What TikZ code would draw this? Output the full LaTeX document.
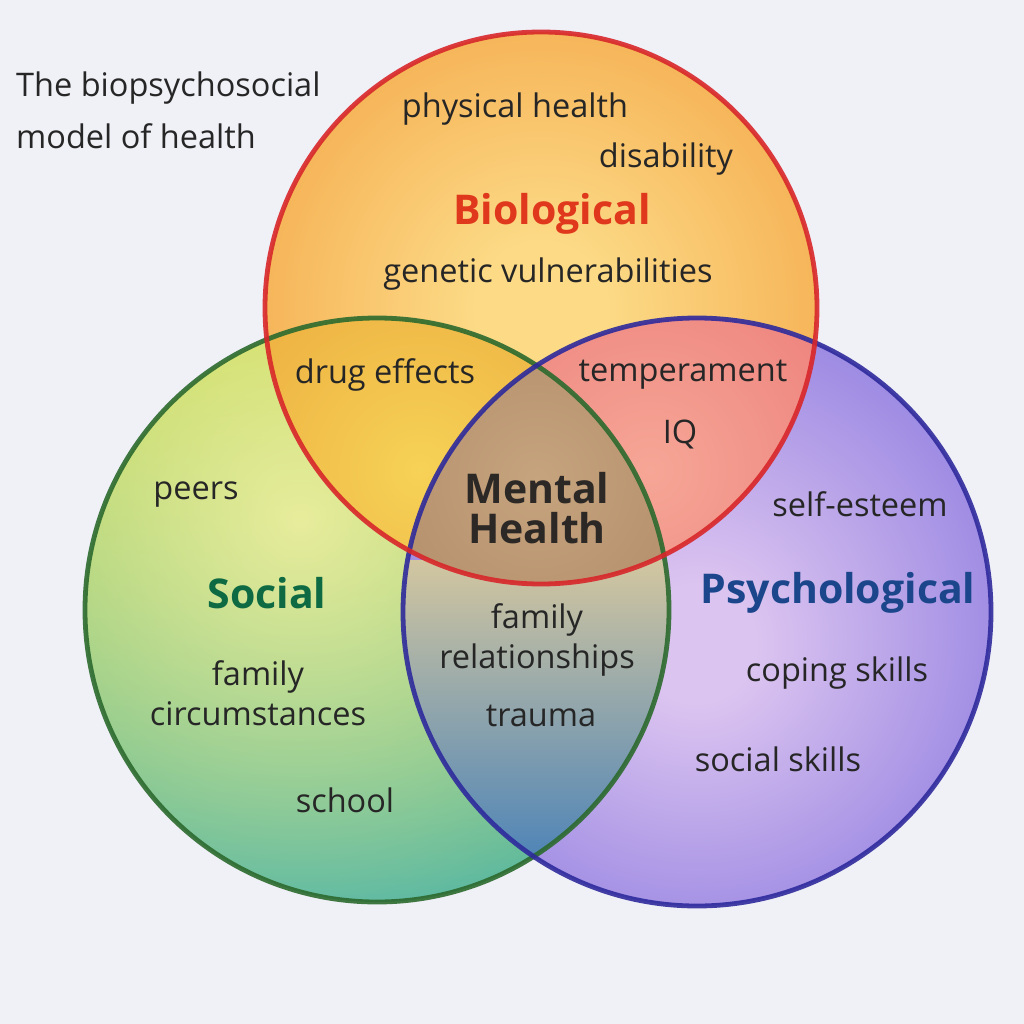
\documentclass[tikz,border=0pt]{standalone}
\usepackage{fontspec}
\setmainfont{Open Sans}
\usetikzlibrary{fadings}
\definecolor{bg}{HTML}{F0F1F7}
\definecolor{txt}{HTML}{262626}
\definecolor{biostroke}{HTML}{D8262A}
\definecolor{socstroke}{HTML}{2C6A2E}
\definecolor{psystroke}{HTML}{2E2A9C}
\definecolor{biotxt}{HTML}{E0381C}
\definecolor{soctxt}{HTML}{0E6A42}
\definecolor{psytxt}{HTML}{1C468C}
\definecolor{mhtxt}{HTML}{2C2826}
\definecolor{socTop}{HTML}{BCD440}
\definecolor{socBot}{HTML}{4AB2A2}
\definecolor{socGlow}{HTML}{F6F3A6}
\definecolor{psyIn}{HTML}{DCC4F0}
\definecolor{psyOut}{HTML}{8474DE}
\definecolor{bioIn}{HTML}{FCDA86}
\definecolor{bioOut}{HTML}{F3A040}
\definecolor{bsIn}{HTML}{F6D256}
\definecolor{bsOut}{HTML}{ECAA3E}
\definecolor{bpIn}{HTML}{F6A696}
\definecolor{bpOut}{HTML}{EC7E7A}
\definecolor{spTop}{HTML}{D2C6A0}
\definecolor{spBot}{HTML}{4A82B8}
\definecolor{cIn}{HTML}{C6A47E}
\definecolor{cOut}{HTML}{B08C68}
\pgfdeclareradialshading{bioshade}{\pgfpoint{0bp}{0bp}}{color(0bp)=(bioIn); color(6bp)=(bioIn); color(36bp)=(bioOut); color(50bp)=(bioOut)}
\pgfdeclareradialshading{psyshade}{\pgfpoint{0bp}{-3bp}}{color(0bp)=(psyIn); color(5bp)=(psyIn); color(35bp)=(psyOut); color(50bp)=(psyOut)}
\tikzfading[name=glow, inner color=transparent!0, outer color=transparent!100]
\tikzset{
  lbl/.style={text=txt, font=\fontsize{32.5}{40}\selectfont, align=center, inner sep=0pt},
  head/.style={font=\fontsize{41}{40}\bfseries\selectfont, align=center, inner sep=0pt},
  ring/.style={line width=4.8pt, draw opacity=0.9},
}
\begin{document}
\begin{tikzpicture}[x=1pt,y=-1pt]
\useasboundingbox (0,0) rectangle (1024,1024);
\fill[bg] (0,0) rectangle (1024,1024);
\coordinate (cb) at (541,308);
\coordinate (cs) at (377,610);
\coordinate (cp) at (697,612);
\def\rb{276}\def\rs{292}\def\rp{294}
% base fills
\shade[top color=socTop, bottom color=socBot] (cs) circle[radius=\rs];
\begin{scope}
  \clip (cs) circle[radius=\rs];
  \fill[socGlow, path fading=glow, fill opacity=0.85] (300,520) circle[radius=460];
\end{scope}
\shade[shading=psyshade] (cp) circle[radius=\rp];
\shade[shading=bioshade] (cb) circle[radius=\rb];
% pair overlaps
\begin{scope}
  \clip (cb) circle[radius=\rb];
  \clip (cs) circle[radius=\rs];
  \shade[inner color=bsIn, outer color=bsOut] (420,470) circle[radius=260];
\end{scope}
\begin{scope}
  \clip (cb) circle[radius=\rb];
  \clip (cp) circle[radius=\rp];
  \shade[inner color=bpIn, outer color=bpOut] (650,470) circle[radius=260];
\end{scope}
\begin{scope}
  \clip (cs) circle[radius=\rs];
  \clip (cp) circle[radius=\rp];
  \shade[top color=spTop, bottom color=spBot] (395,560) rectangle (675,870);
\end{scope}
\begin{scope}
  \clip (cs) circle[radius=\rs];
  \clip (cp) circle[radius=\rp];
  \clip (cb) circle[radius=\rb];
  \shade[inner color=cIn, outer color=cOut] (537,480) circle[radius=200];
\end{scope}
% rings
\draw[ring, socstroke] (cs) circle[radius=\rs];
\draw[ring, psystroke] (cp) circle[radius=\rp];
\draw[ring, biostroke] (cb) circle[radius=\rb];
% title
\node[lbl, anchor=base west] (title1) at (16,97) {The biopsychosocial};
\node[lbl, anchor=base west] (title2) at (16,149) {model of health};
% biological
\node[lbl] (ph) at (515,109) {physical health};
\node[lbl] (dis) at (666,159) {disability};
\node[head, text=biotxt] (bio) at (552,214) {Biological};
\node[lbl] (gen) at (548,274) {genetic vulnerabilities};
% overlaps
\node[lbl] (drug) at (385,375) {drug effects};
\node[lbl] (temp) at (683,375) {temperament};
\node[lbl] (iq) at (680,434) {IQ};
\node[head, text=mhtxt] (mh) at (537,508) {Mental\\Health};
\node[lbl] (fam) at (537,640) {family\\relationships};
\node[lbl] (trauma) at (541,716) {trauma};
% social
\node[lbl] (peers) at (196,495) {peers};
\node[head, text=soctxt] (soc) at (267,593) {Social};
\node[lbl] (fc) at (258,693) {family\\circumstances};
\node[lbl] (school) at (345,800) {school};
% psychological
\node[lbl] (se) at (860,504) {self-esteem};
\node[head, text=psytxt] (psy) at (838,593) {Psychological};
\node[lbl] (cope) at (837,673) {coping skills};
\node[lbl] (ss) at (778,759) {social skills};
\end{tikzpicture}
\end{document}
